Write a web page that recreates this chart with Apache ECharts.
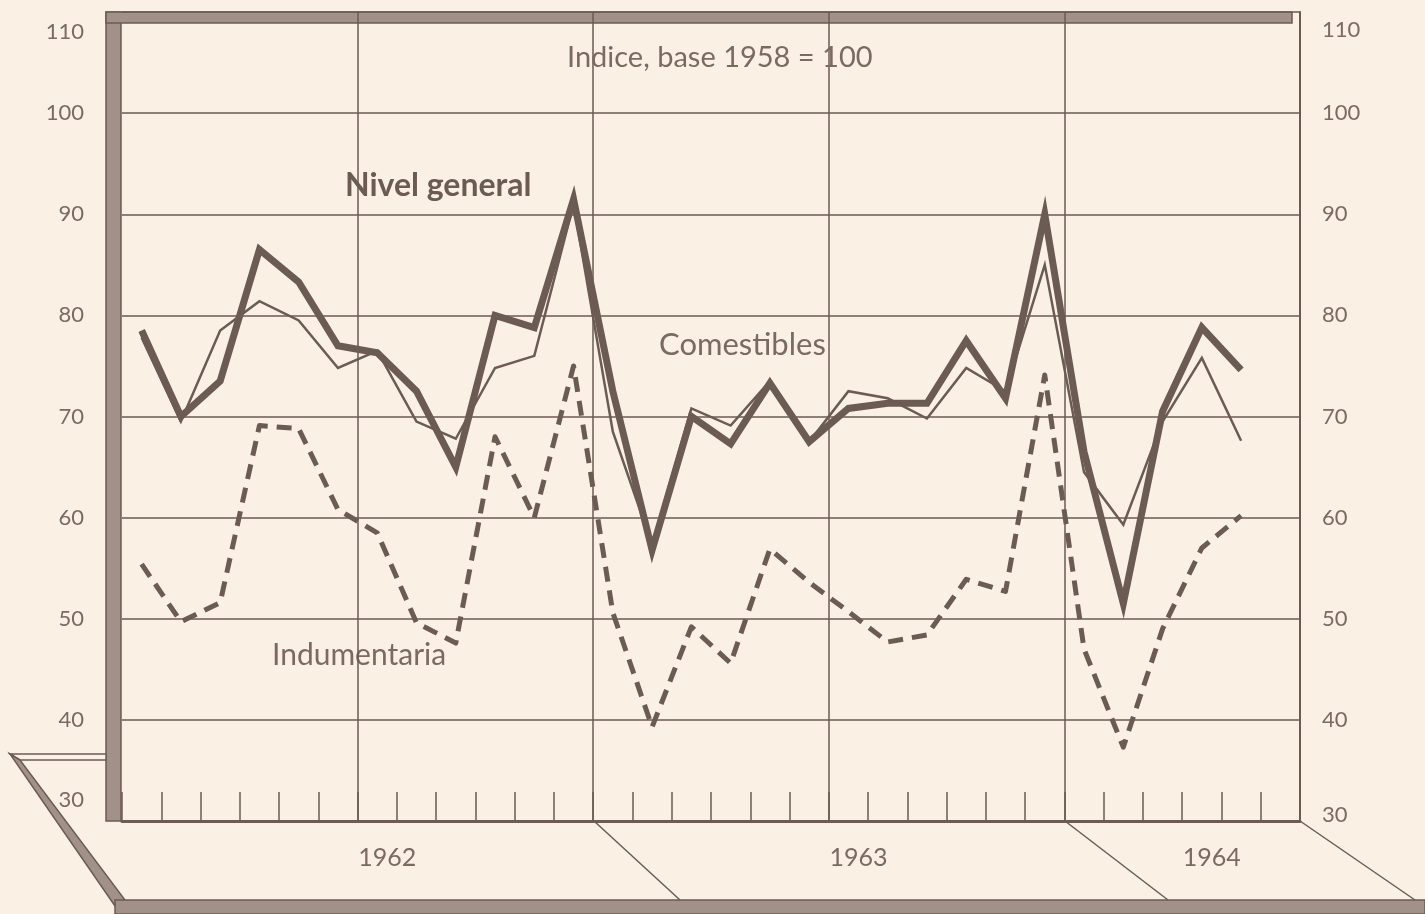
<!DOCTYPE html>
<html>
<head>
<meta charset="utf-8">
<title>Indice, base 1958 = 100</title>
<script src="https://cdn.jsdelivr.net/npm/echarts@6/dist/echarts.min.js"></script>
<style>
  html, body { margin: 0; padding: 0; background: #faf0e4; }
  #mycharts { width: 1425px; height: 914px; }
</style>
</head>
<body>
<div id="mycharts"></div>
<script>
// meses ene 1962 - jun 1964
const months = [
  "1962-01", "1962-02", "1962-03", "1962-04", "1962-05", "1962-06",
  "1962-07", "1962-08", "1962-09", "1962-10", "1962-11", "1962-12",
  "1963-01", "1963-02", "1963-03", "1963-04", "1963-05", "1963-06",
  "1963-07", "1963-08", "1963-09", "1963-10", "1963-11", "1963-12",
  "1964-01", "1964-02", "1964-03", "1964-04", "1964-05", "1964-06"
];
// indice donde se escribe el año
const yearLabels = { 6: "1962", 18: "1963", 27: "1964" };
const yTicks = [30, 40, 50, 60, 70, 80, 90, 100, 110];

const nivelGeneral = [
  78.5, 70, 73.5, 86.5, 83.3, 77, 76.3, 72.5, 65, 80, 78.8, 91.5,
  72.5, 56.8, 70, 67.3, 73.3, 67.5, 70.8, 71.3, 71.3, 77.5, 71.8, 90,
  66.5, 51.5, 70.5, 78.8, 74.6, null
];
const comestibles = [
  77.8, 69.5, 78.5, 81.4, 79.5, 74.8, 76.5, 69.5, 67.8, 74.8, 76, 91,
  68.5, 57.3, 70.8, 69.1, 73.5, 67.5, 72.5, 71.8, 69.8, 74.8, 72.5, 85,
  64.5, 59.3, 69.5, 75.8, 67.6, null
];
const indumentaria = [
  55.4, 49.7, 51.6, 69.1, 68.8, 60.8, 58.5, 49.6, 47.6, 68, 60, 75,
  50.6, 39.3, 49.2, 45.6, 56.9, 53.6, 50.7, 47.7, 48.4, 53.9, 52.7, 74.1,
  47, 37.3, 49, 57, 60.2, null
];

const ink = "#6b5b53";
const soft = "#7a6a62";
const hatch = "#a19189";

function yAxisDef(side, shiftTop, shiftBottom) {
  return {
    type: "value",
    position: side,
    min: yTicks[0],
    max: yTicks[yTicks.length - 1],
    interval: 10,
    axisLine: { show: side === "right", lineStyle: { color: ink, width: 2 } },
    axisTick: { show: false },
    splitLine: { show: side === "left", lineStyle: { color: ink, width: 1.5 } },
    axisLabel: {
      margin: side === "left" ? 38 : 22,
      color: soft,
      fontSize: 22,
      formatter: function (v) {
        if (v === 110) return "{top|" + v + "}";
        if (v === 30) return "{bot|" + v + "}";
        return String(v);
      },
      rich: {
        top: { fontSize: 22, color: soft, padding: [shiftTop, 0, 0, 0] },
        bot: { fontSize: 22, color: soft, padding: [0, 0, shiftBottom, 0] }
      }
    }
  };
}

const charts = echarts.init(document.getElementById("mycharts"));
const option = {
  backgroundColor: "#faf0e4",
  textStyle: { fontFamily: "Lato" },
  animation: false,
  title: {
    text: "Indice, base 1958 = 100",
    left: 562,
    top: 38,
    textStyle: { color: soft, fontSize: 29, fontWeight: "normal", fontFamily: "Lato" }
  },
  grid: { left: 122, right: 125, top: 12, bottom: 93 },
  xAxis: [
    {
      type: "category",
      data: months,
      boundaryGap: true,
      axisLine: { lineStyle: { color: ink, width: 3 } },
      axisTick: { show: false },
      splitLine: {
        show: true,
        interval: function (i) { return i > 0 && i % 6 === 0; },
        lineStyle: { color: ink, width: 1.5 }
      },
      axisLabel: {
        margin: 24,
        interval: function (i) { return yearLabels[i] !== undefined; },
        formatter: function (v, i) { return "{y|" + yearLabels[i] + "}"; },
        rich: { y: { fontSize: 25, color: soft, padding: [0, 0, 0, 20] } }
      }
    },
    {
      // solo las marcas de cada mes
      type: "category",
      data: months,
      position: "bottom",
      boundaryGap: true,
      axisLine: { show: false },
      axisLabel: { show: false },
      splitLine: { show: false },
      axisTick: {
        show: true,
        inside: true,
        length: 29,
        interval: 0,
        alignWithLabel: false,
        lineStyle: { color: ink, width: 1.5 }
      }
    }
  ],
  yAxis: [yAxisDef("left", 40, 42), yAxisDef("right", 36, 12)],
  series: [
    {
      name: "Indumentaria",
      type: "line",
      data: indumentaria,
      symbol: "none",
      lineStyle: { color: ink, width: 5, type: [15, 9], join: "round" }
    },
    {
      name: "Comestibles",
      type: "line",
      data: comestibles,
      symbol: "none",
      lineStyle: { color: ink, width: 2.5, join: "miter" }
    },
    {
      name: "Nivel general",
      type: "line",
      data: nivelGeneral,
      symbol: "none",
      lineStyle: { color: ink, width: 7, join: "miter" }
    }
  ],
  graphic: [
    // marco en relieve
    { type: "rect", shape: { x: 106, y: 12, width: 15, height: 809 }, style: { fill: hatch, stroke: ink, lineWidth: 1.5 } },
    { type: "rect", shape: { x: 106, y: 12, width: 1186, height: 11 }, style: { fill: hatch, stroke: ink, lineWidth: 1.5 } },
    { type: "polygon", shape: { points: [[10, 754], [106, 754], [106, 760], [20, 760]] }, style: { fill: "#faf0e4", stroke: ink, lineWidth: 1.5 } },
    { type: "polygon", shape: { points: [[10, 754], [20, 760], [125, 900], [115, 906]] }, style: { fill: hatch, stroke: ink, lineWidth: 1.5 } },
    { type: "rect", shape: { x: 115, y: 900, width: 1310, height: 14 }, style: { fill: hatch, stroke: ink, lineWidth: 1.5 } },
    { type: "line", shape: { x1: 594, y1: 821, x2: 680, y2: 900 }, style: { stroke: ink, lineWidth: 1.5 } },
    { type: "line", shape: { x1: 1065, y1: 821, x2: 1168, y2: 900 }, style: { stroke: ink, lineWidth: 1.5 } },
    { type: "line", shape: { x1: 1300, y1: 821, x2: 1415, y2: 900 }, style: { stroke: ink, lineWidth: 1.5 } },
    // rotulos de las series
    { type: "text", left: 345, top: 170, style: { text: "Nivel general", fill: ink, font: "bold 32px Lato" } },
    { type: "text", left: 659, top: 329, style: { text: "Comestibles", fill: soft, font: "31px Lato" } },
    { type: "text", left: 272, top: 640, style: { text: "Indumentaria", fill: soft, font: "30px Lato" } }
  ]
};
charts.setOption(option);
</script>
</body>
</html>
